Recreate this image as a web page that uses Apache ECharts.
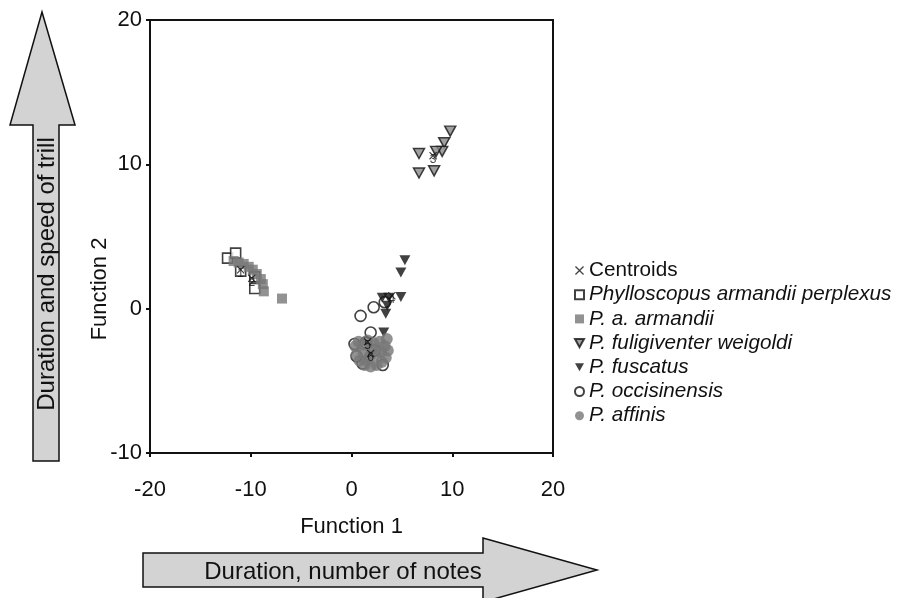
<!DOCTYPE html>
<html><head><meta charset="utf-8">
<script src="https://cdn.jsdelivr.net/npm/echarts@6/dist/echarts.min.js"></script>
<style>html,body{margin:0;padding:0;background:#fff}#c{width:898px;height:598px}</style>
</head><body><div id="c"></div>
<script>
const xTicks = [-20, -10, 0, 10, 20];
const yTicks = [-10, 0, 10, 20];
const seriesNames = ['Centroids', 'Phylloscopus armandii perplexus', 'P. a. armandii', 'P. fuligiventer weigoldi', 'P. fuscatus', 'P. occisinensis', 'P. affinis'];
const perplexus = [[-12.3,3.5],[-11.5,3.85],[-11.0,2.6],[-9.6,2.2],[-9.6,1.4]];
const armandii = [[-11.7,3.3],[-11.2,3.2],[-10.7,3.1],[-10.2,2.9],[-9.8,2.7],[-9.4,2.4],[-9.0,2.05],[-8.8,1.7],[-8.7,1.2],[-6.9,0.7]];
const fuligiventer = [[9.8,12.3],[9.2,11.5],[9.0,10.9],[8.4,10.9],[6.7,10.75],[8.2,9.55],[6.7,9.4]];
const fuscatus = [[5.3,3.35],[4.9,2.5],[4.9,0.8],[3.05,0.75],[3.7,0.75],[3.55,0.2],[3.4,-0.35],[3.2,-1.65]];
const occisinensis = [[0.9,-0.5],[2.2,0.1],[3.3,0.45],[1.9,-1.65],[0.3,-2.45],[1.4,-2.35],[3.1,-3.9],[1.1,-3.8],[2.3,-2.9],[0.5,-3.3]];
const affinis = [[0.4,-2.6],[0.7,-2.3],[1.2,-2.5],[1.6,-2.2],[2.2,-2.4],[2.8,-2.3],[3.3,-2.6],[3.6,-2.9],[3.4,-3.4],[3.0,-3.7],[2.5,-3.9],[1.9,-4.0],[1.3,-3.9],[0.8,-3.6],[0.5,-3.2],[1.2,-3.1],[1.8,-3.3],[2.4,-3.1],[2.0,-2.8],[2.9,-3.0],[1.5,-3.6],[3.5,-2.1]];
const centroids = [[-11.0,2.7,'1'],[-9.9,2.1,'2'],[8.1,10.6,'3'],[4.0,0.9,'4'],[1.6,-2.3,'5'],[1.9,-3.1,'6']];

const xPath = 'path://M0,1L1,0L5,4L9,0L10,1L6,5L10,9L9,10L5,6L1,10L0,9L4,5Z';
const downTri = 'path://M0,0L10,0L5,9Z';
const font = '"Liberation Sans", Arial, sans-serif';

const chart = echarts.init(document.getElementById('c'), null, {renderer: 'canvas'});
chart.setOption({
  backgroundColor: '#fff',
  animation: false,
  textStyle: {fontFamily: font, color: '#111'},
  grid: {left: 150, right: 345, top: 20, bottom: 145, show: true, borderColor: '#111', borderWidth: 2, backgroundColor: 'transparent'},
  xAxis: {
    type: 'value', min: xTicks[0], max: xTicks[xTicks.length-1], interval: 10,
    splitLine: {show: false},
    axisLine: {show: true, onZero: false, lineStyle: {color: '#111', width: 2}},
    axisTick: {show: true, length: 4, lineStyle: {color: '#111', width: 2}},
    axisLabel: {fontSize: 22, color: '#111', margin: 26, fontFamily: font},
    name: 'Function 1', nameLocation: 'middle', nameGap: 63,
    nameTextStyle: {fontSize: 22, color: '#111', fontFamily: font}
  },
  yAxis: {
    type: 'value', min: yTicks[0], max: yTicks[yTicks.length-1], interval: 10,
    splitLine: {show: false},
    axisLine: {show: true, onZero: false, lineStyle: {color: '#111', width: 2}},
    axisTick: {show: true, length: 4, lineStyle: {color: '#111', width: 2}},
    axisLabel: {fontSize: 22, color: '#111', margin: 8, fontFamily: font}
  },
  legend: {
    orient: 'vertical', left: 569, top: 255, itemWidth: 9, itemHeight: 9, itemGap: 3.2,
    textStyle: {fontSize: 20.7, color: '#111', fontFamily: font},
    data: seriesNames.map((n, i) => ({name: n, textStyle: {fontStyle: i === 0 ? 'normal' : 'italic'}}))
  },
  graphic: [
    {type: 'polygon', shape: {points: [[42,12],[75,125],[59,125],[59,461],[33,461],[33,125],[10,125]]},
     style: {fill: '#d3d3d3', stroke: '#111', lineWidth: 1.5}},
    {type: 'text', x: 47, y: 274, rotation: Math.PI/2,
     style: {text: 'Duration and speed of trill', font: '24px ' + font, fill: '#111', align: 'center', verticalAlign: 'middle'}},
    {type: 'polygon', shape: {points: [[143,553],[483,553],[483,538],[597,570],[483,602],[483,587],[143,587]]},
     style: {fill: '#d3d3d3', stroke: '#111', lineWidth: 1.5}},
    {type: 'text', x: 343, y: 572,
     style: {text: 'Duration, number of notes', font: '24px ' + font, fill: '#111', align: 'center', verticalAlign: 'middle'}},
    {type: 'text', x: 100, y: 289, rotation: Math.PI/2,
     style: {text: 'Function 2', font: '22px ' + font, fill: '#111', align: 'center', verticalAlign: 'middle'}}
  ],
  series: [
    {name: seriesNames[1], type: 'scatter', data: perplexus, symbol: 'rect', symbolSize: 10,
     itemStyle: {color: '#fff', borderColor: '#111', borderWidth: 1.6}, z: 2},
    {name: seriesNames[2], type: 'scatter', data: armandii, symbol: 'rect', symbolSize: 10,
     itemStyle: {color: '#777'}, z: 3},
    {name: seriesNames[3], type: 'scatter', data: fuligiventer, symbol: downTri, symbolSize: [11, 10],
     itemStyle: {color: '#888', borderColor: '#111', borderWidth: 1.5}, z: 3},
    {name: seriesNames[4], type: 'scatter', data: fuscatus, symbol: downTri, symbolSize: [11, 10],
     itemStyle: {color: '#111'}, z: 3},
    {name: seriesNames[5], type: 'scatter', data: occisinensis, symbol: 'circle', symbolSize: 11,
     itemStyle: {color: '#fff', borderColor: '#111', borderWidth: 1.6}, z: 2},
    {name: seriesNames[6], type: 'scatter', data: affinis, symbol: 'circle', symbolSize: 12,
     itemStyle: {color: '#777'}, z: 3},
    {name: seriesNames[0], type: 'scatter', data: centroids, symbol: xPath, symbolSize: 8,
     itemStyle: {color: '#111'}, z: 5,
     label: {show: true, position: 'inside', offset: [0, 4], formatter: p => p.value[2], fontSize: 12, color: '#111', fontFamily: font}}
  ]
});
</script></body></html>
